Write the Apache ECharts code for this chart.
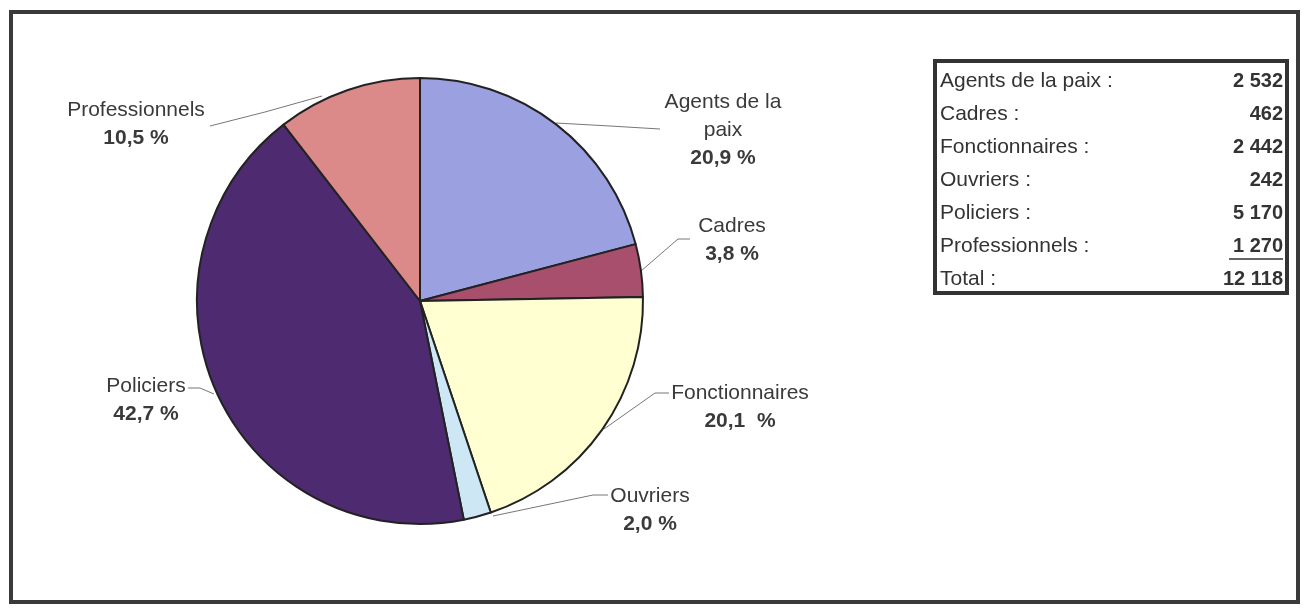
<!DOCTYPE html>
<html>
<head>
<meta charset="utf-8">
<script src="https://cdn.jsdelivr.net/npm/echarts@6/dist/echarts.min.js"></script>
<style>
  html, body { margin: 0; padding: 0; background: #fff; }
  #chart { width: 1305px; height: 611px; }
</style>
</head>
<body>
<div id="chart"></div>
<script>
var categories = ['Agents de la paix', 'Cadres', 'Fonctionnaires', 'Ouvriers', 'Policiers', 'Professionnels'];
var counts = [2532, 462, 2442, 242, 5170, 1270];
var countLabels = ['2 532', '462', '2 442', '242', '5 170', '1 270'];
var totalLabel = '12 118';
// percentages as printed next to the slices
var pctLabels = ['20,9 %', '3,8 %', '20,1  %', '2,0 %', '42,7 %', '10,5 %'];
// slice label text (with the printed line breaks)
var sliceNames = ['Agents de la\npaix', 'Cadres', 'Fonctionnaires', 'Ouvriers', 'Policiers', 'Professionnels'];
var colors = ['#9ba1e0', '#a84f6d', '#ffffd2', '#cde7f4', '#4e2a70', '#dc8a89'];

// where each label goes, and its leader line
var labelPos = [[723, 130], [732, 240], [740, 407], [650, 510], [146, 400], [136, 124]];
var labelLines = [
  [[556, 123], [610, 126], [660, 129]],
  [[641, 271], [678, 239], [690, 239]],
  [[604, 429], [655, 393], [669, 393]],
  [[493, 516], [593, 495], [608, 495]],
  [[214, 394], [200, 388], [188, 388]],
  [[322, 96], [265, 112], [210, 126]]
];

var FONT = 'Liberation Sans, Arial, sans-serif';

var pieData = categories.map(function (c, i) {
  return { name: c, value: counts[i], itemStyle: { color: colors[i] } };
});

// table drawn with graphic elements
var tableEls = [];
tableEls.push({
  type: 'rect',
  shape: { x: 935, y: 61, width: 352, height: 232 },
  style: { fill: '#fff', stroke: '#333', lineWidth: 4 }
});
var rowNames = categories.concat(['Total']);
var rowVals = countLabels.concat([totalLabel]);
rowNames.forEach(function (n, i) {
  var y = 81 + i * 33;
  tableEls.push({
    type: 'text', x: 940, y: y,
    style: { text: n + ' :', font: '21px ' + FONT, fill: '#333', verticalAlign: 'middle', align: 'left' }
  });
  tableEls.push({
    type: 'text', x: 1283, y: y,
    style: { text: rowVals[i], font: 'bold 20px ' + FONT, fill: '#333', verticalAlign: 'middle', align: 'right' }
  });
});
tableEls.push({
  type: 'line',
  shape: { x1: 1229, y1: 259, x2: 1283, y2: 259 },
  style: { stroke: '#333', lineWidth: 1.5 }
});
// outer frame
tableEls.push({
  type: 'rect',
  shape: { x: 11, y: 12, width: 1287, height: 590 },
  style: { fill: 'none', stroke: '#3a3a3a', lineWidth: 4 }
});

var option = {
  backgroundColor: '#fff',
  animation: false,
  graphic: { elements: tableEls },
  series: [
    {
      type: 'pie',
      center: [420, 301],
      radius: [0, 223],
      startAngle: 90,
      clockwise: true,
      data: pieData,
      itemStyle: { borderColor: '#222', borderWidth: 2 },
      label: {
        show: true,
        position: 'outside',
        formatter: function (p) {
          var lines = sliceNames[p.dataIndex].split('\n').map(function (l) { return '{n|' + l + '}'; });
          return lines.join('\n') + '\n{p|' + pctLabels[p.dataIndex] + '}';
        },
        align: 'center',
        rich: {
          n: { fontFamily: FONT, fontSize: 21, color: '#3a3a3a', lineHeight: 28, align: 'center' },
          p: { fontFamily: FONT, fontSize: 21, fontWeight: 'bold', color: '#3a3a3a', lineHeight: 28, align: 'center' }
        }
      },
      labelLine: {
        show: true,
        lineStyle: { color: '#777', width: 1 }
      },
      labelLayout: function (params) {
        var i = params.dataIndex;
        return {
          x: labelPos[i][0],
          y: labelPos[i][1],
          align: 'center',
          verticalAlign: 'middle',
          labelLinePoints: labelLines[i],
          moveOverlap: false,
          hideOverlap: false
        };
      },
      emphasis: { disabled: true }
    }
  ]
};

var myChart = echarts.init(document.getElementById('chart'));
myChart.setOption(option);

window.addEventListener('resize', function () {
  myChart.resize();
});
</script>
</body>
</html>
